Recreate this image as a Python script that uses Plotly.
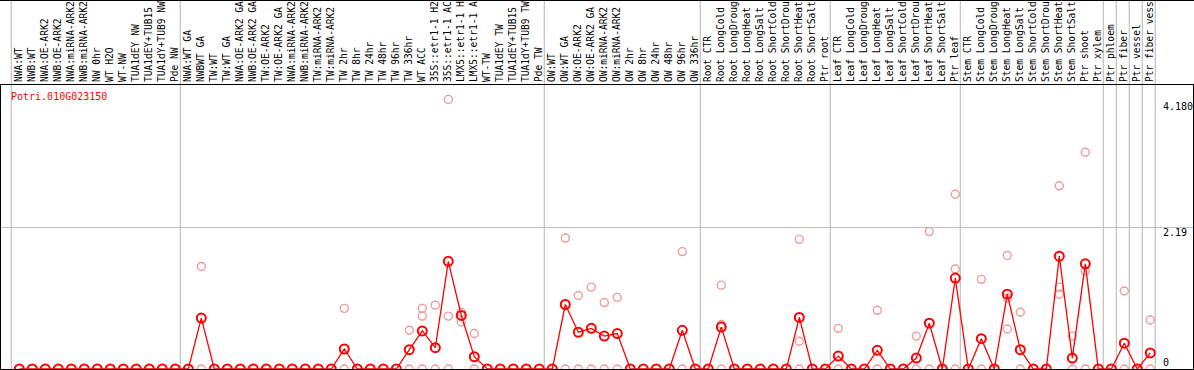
import plotly.graph_objects as go

N = None

categories = [
    "NWA:WT", "NWB:WT", "NWA:OE-ARK2", "NWB:OE-ARK2", "NWA:miRNA-ARK2", "NWB:miRNA-ARK2",
    "NW 0hr", "WT H2O", "WT-NW", "TUA1dEY NW", "TUA1dEY+TUB15", "TUA1dY+TUB9 NW", "Pde NW",
    "NWA:WT GA", "NWBWT GA", "TW:WT", "TW:WT GA", "NWA:OE-ARK2 GA", "NWB:OE-ARK2 GA",
    "TW:OE-ARK2", "TW:OE-ARK2 GA", "NWA:miRNA-ARK2", "NWB:miRNA-ARK2", "TW:miRNA-ARK2",
    "TW:miRNA-ARK2", "TW 2hr", "TW 8hr", "TW 24hr", "TW 48hr", "TW 96hr", "TW 336hr",
    "WT ACC", "35S::etr1-1 H2", "35S::etr1-1 AC", "LMX5::etr1-1 H", "LMX5::etr1-1 A",
    "WT-TW", "TUA1dEY TW", "TUA1dEY+TUB15", "TUA1dY+TUB9 TW", "Pde TW",
    "OW:WT", "OW:WT GA", "OW:OE-ARK2", "OW:OE-ARK2 GA", "OW:miRNA-ARK2", "OW:miRNA-ARK2",
    "OW 2hr", "OW 8hr", "OW 24hr", "OW 48hr", "OW 96hr", "OW 336hr",
    "Root CTR", "Root LongCold", "Root LongDroug", "Root LongHeat", "Root LongSalt",
    "Root ShortCold", "Root ShortDrou", "Root ShortHeat", "Root ShortSalt", "Ptr root",
    "Leaf CTR", "Leaf LongCold", "Leaf LongDroug", "Leaf LongHeat", "Leaf LongSalt",
    "Leaf ShortCold", "Leaf ShortDrou", "Leaf ShortHeat", "Leaf ShortSalt", "Ptr leaf",
    "Stem CTR", "Stem LongCold", "Stem LongDroug", "Stem LongHeat", "Stem LongSalt",
    "Stem ShortCold", "Stem ShortDrou", "Stem ShortHeat", "Stem ShortSalt", "Ptr shoot",
    "Ptr xylem", "Ptr phloem", "Ptr fiber", "Ptr vessel", "Ptr fiber vess",
]

# mean expression (bold red line)
mean_values = [
    0, 0, 0, 0, 0, 0, 0, 0, 0, 0, 0, 0, 0,
    0, 0.79, 0, 0, 0, 0, 0, 0, 0, 0, 0, 0, 0.31, 0, 0, 0, 0, 0.30, 0.59, 0.33, 1.67, 0.83, 0.19, 0, 0, 0, 0, 0,
    0, 1.00, 0.57, 0.63, 0.51, 0.55, 0, 0, 0, 0, 0.60, 0,
    0, 0.65, 0, 0, 0, 0, 0, 0.80, 0, 0,
    0.20, 0, 0, 0.29, 0, 0, 0.17, 0.71, 0, 1.41,
    0, 0.47, 0, 1.16, 0.30, 0, 0, 1.75, 0.17, 1.63,
    0, 0, 0.40, 0, 0.25,
]

# individual replicates (light circles)
rep_a = [
    N, N, N, N, N, N, N, N, N, N, N, N, N,
    N, 1.59, N, N, N, N, N, N, N, N, N, N, 0.94, N, N, N, N, 0.60, 0.94, 0.99, 4.18, 0.88, 0.55, N, N, N, N, N,
    N, 2.03, 1.14, 1.27, 1.03, 1.11, N, N, N, N, 1.82, N,
    N, 1.30, N, N, N, N, N, 2.01, N, N,
    0.63, N, N, 0.91, N, N, 0.51, 2.13, N, 2.71,
    N, 1.39, N, 1.76, 0.88, N, N, 2.84, 0.51, 3.36,
    N, N, 1.21, N, 0.76,
]
rep_b = [
    N, N, N, N, N, N, N, N, N, N, N, N, N,
    N, 0, N, N, N, N, N, N, N, N, N, N, 0, N, N, N, N, 0, 0.82, 0, 0.82, 0.73, 0, N, N, N, N, N,
    N, 0, 0, 0, 0, 0, N, N, N, N, 0, N,
    N, 0.69, N, N, N, N, N, 0.43, N, N,
    0, N, N, 0, N, N, 0, 0, N, 1.55,
    N, 0, N, 1.10, 0, N, N, 1.27, 0, 1.52,
    N, N, 0, N, 0,
]
rep_c = [
    N, N, N, N, N, N, N, N, N, N, N, N, N,
    N, N, N, N, N, N, N, N, N, N, N, N, N, N, N, N, N, N, 0, N, 0, N, N, N, N, N, N, N,
    N, N, N, N, N, N, N, N, N, N, N, N,
    N, 0, N, N, N, N, N, 0, N, N,
    N, N, N, N, N, N, N, N, N, 0,
    N, N, N, 0.62, N, N, N, 1.16, N, 0,
    N, N, N, N, N,
]

group_ends = [0, 13, 41, 53, 63, 73, 84, 85, 86, 87, 88]
gene_label = "Potri.010G023150"
max_label = "4.180"
max_value = 4.18
mid_value = 2.19

W, H = 1194, 370
ML, MR, MT, MB = 1, 1, 85, 1
PW, PH = W - ML - MR, H - MT - MB
x_idx = list(range(1, len(categories) + 1))

fig = go.Figure()

rx, ry = [], []
for rep in (rep_a, rep_b, rep_c):
    for i, v in zip(x_idx, rep):
        if v is not None:
            rx.append(i)
            ry.append(v)

fig.add_trace(go.Scatter(
    x=rx, y=ry, mode="markers",
    marker=dict(symbol="circle-open", size=8, color="#f09a9a", line=dict(width=1.4, color="#f09a9a")),
    hoverinfo="skip", showlegend=False,
))
fig.add_trace(go.Scatter(
    x=x_idx, y=mean_values, mode="lines+markers",
    line=dict(color="#ff0000", width=1.3),
    marker=dict(symbol="circle-open", size=9, color="#ff0000", line=dict(width=2, color="#ff0000")),
    showlegend=False,
))

top_paper = (H - MB) / PH
for g in group_ends:
    fig.add_shape(type="line", xref="x", yref="paper", x0=g + 0.385, x1=g + 0.385,
                  y0=0, y1=top_paper, line=dict(color="#c0c0c0", width=1.2), layer="below")
# top border of the image
fig.add_shape(type="line", xref="paper", yref="paper", x0=-ML / PW, x1=(PW + MR) / PW,
              y0=(H - MB - 0.5) / PH, y1=(H - MB - 0.5) / PH, line=dict(color="black", width=1))

mono = "DejaVu Sans Mono"

fig.add_annotation(xref="paper", yref="paper", x=8.3 / PW, y=(H - MB - 96.7) / PH,
                   text=gene_label, showarrow=False, xanchor="left", yanchor="middle",
                   font=dict(family=mono, size=10, color="#ff0000"))
lab_x = 1161 / PW
for val, txt, anc, sh in ((max_value, max_label, "top", -1), (mid_value, f"{mid_value}", "top", 2),
                          (0, "0", "bottom", 0)):
    fig.add_annotation(xref="paper", yref="y", x=lab_x, y=val, text=txt, showarrow=False,
                       xanchor="left", yanchor=anc, yshift=sh, borderpad=0,
                       font=dict(family=mono, size=10, color="black"))

a = 1 - 18.3 / 13
b = a + PW / 13
ppu = 64.5
fig.update_xaxes(range=[a, b], side="top", tickmode="array", tickvals=x_idx, ticktext=categories,
                 tickangle=-90, ticks="", showgrid=False, zeroline=False,
                 showline=True, mirror=True, linecolor="black", linewidth=1,
                 tickfont=dict(family=mono, size=9.6, color="black"), ticklabelstandoff=0,
                 automargin=False, fixedrange=True)
fig.update_yaxes(range=[0, PH / ppu], tickmode="array", tickvals=[mid_value],
                 showticklabels=False, ticks="", showgrid=True, gridcolor="#c0c0c0", gridwidth=1.2,
                 zeroline=False, showline=True, mirror=True, linecolor="black", linewidth=1,
                 automargin=False, fixedrange=True)
fig.update_layout(width=W, height=H, margin=dict(l=ML, r=MR, t=MT, b=MB, pad=0),
                  plot_bgcolor="white", paper_bgcolor="white", showlegend=False)

fig.write_html("out.html", config={"displayModeBar": False},
               post_script="document.body.style.margin='0';document.body.style.overflow='hidden';")
